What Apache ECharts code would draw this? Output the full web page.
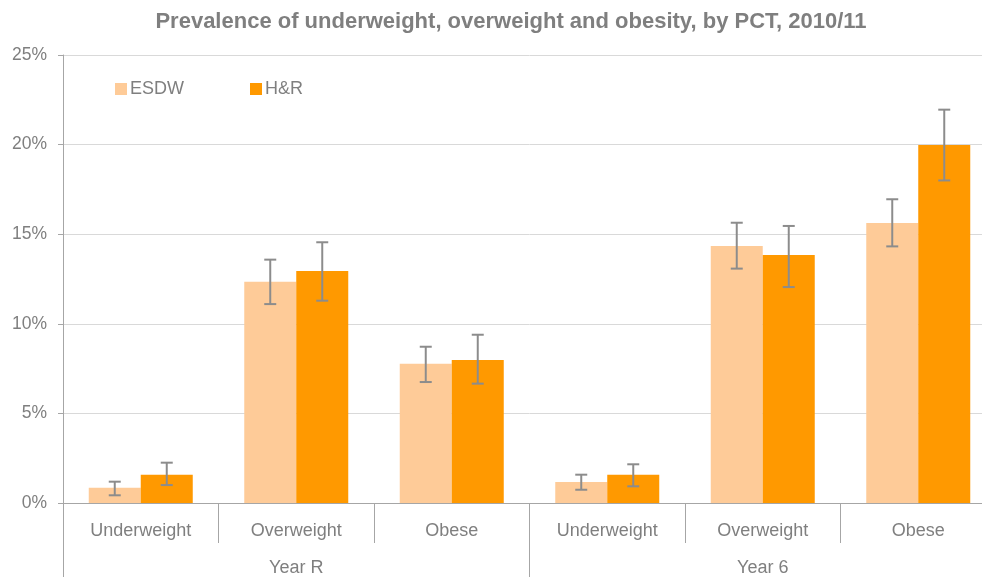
<!DOCTYPE html>
<html>
<head>
<meta charset="utf-8">
<script src="https://cdn.jsdelivr.net/npm/echarts@6/dist/echarts.min.js"></script>
<style>
html, body { margin: 0; padding: 0; background: #fff; overflow: hidden; }
#chart { width: 996px; height: 577px; }
</style>
</head>
<body>
<div id="chart"></div>
<script>
// categories and values (percent)
var categories = ['Underweight', 'Overweight', 'Obese', 'Underweight', 'Overweight', 'Obese'];
var years = ['Year R', 'Year 6'];
var esdw = [0.85, 12.35, 7.77, 1.17, 14.34, 15.63];
var esdwLow = [0.43, 11.1, 6.75, 0.74, 13.08, 14.32];
var esdwHigh = [1.19, 13.58, 8.72, 1.58, 15.64, 16.95];
var hr = [1.58, 12.95, 7.98, 1.58, 13.84, 19.98];
var hrLow = [1.0, 11.29, 6.66, 0.93, 12.05, 18.0];
var hrHigh = [2.25, 14.55, 9.39, 2.16, 15.46, 21.95];

var barW = 52;
var grey = '#7f7f7f';
var lineGrey = '#a6a6a6';

function errData(low, high) {
	var out = [];
	for (var i = 0; i < low.length; i++) {
		out.push([i, low[i], high[i]]);
	}
	return out;
}

function errorBar(shift) {
	return function(params, api) {
		var i = api.value(0);
		var lo = api.coord([i, api.value(1)]);
		var hi = api.coord([i, api.value(2)]);
		var x = lo[0] + shift;
		var cap = 6;
		var st = { stroke: '#8c8c8c', lineWidth: 2 };
		return {
			type: 'group',
			children: [
				{ type: 'line', shape: { x1: x, y1: hi[1], x2: x, y2: lo[1] }, style: st },
				{ type: 'line', shape: { x1: x - cap, y1: hi[1], x2: x + cap, y2: hi[1] }, style: st },
				{ type: 'line', shape: { x1: x - cap, y1: lo[1], x2: x + cap, y2: lo[1] }, style: st }
			]
		};
	};
}

var myChart = echarts.init(document.getElementById('chart'));
var option = {
	animation: false,
	title: {
		text: 'Prevalence of underweight, overweight and obesity, by PCT, 2010/11',
		left: 506,
		textAlign: 'center',
		top: 6,
		textStyle: { color: grey, fontSize: 22, fontWeight: 'bold', fontFamily: 'Liberation Sans' }
	},
	legend: {
		left: 110,
		top: 75,
		itemWidth: 12,
		itemHeight: 12,
		itemGap: 66,
		icon: 'rect',
		textStyle: { color: grey, fontSize: 18, fontFamily: 'Liberation Sans', padding: [0, 0, 0, -2] },
		data: ['ESDW', 'H&R']
	},
	grid: { left: 63, right: 0, top: 55, bottom: 74 },
	xAxis: [{
		type: 'category',
		data: categories,
		axisLine: { lineStyle: { color: lineGrey, width: 1 } },
		axisTick: { show: true, length: 40, interval: 0, lineStyle: { color: lineGrey } },
		axisLabel: { color: grey, fontSize: 18, margin: 19, interval: 0, fontFamily: 'Liberation Sans' }
	}, {
		type: 'category',
		position: 'bottom',
		data: years,
		axisLine: { show: false },
		axisTick: { show: true, length: 74, interval: 0, lineStyle: { color: lineGrey } },
		axisLabel: { color: grey, fontSize: 18, margin: 56, fontFamily: 'Liberation Sans' }
	}],
	yAxis: {
		type: 'value',
		min: 0,
		max: 25,
		interval: 5,
		axisLine: { show: true, lineStyle: { color: lineGrey } },
		axisTick: { show: true, length: 5, lineStyle: { color: lineGrey } },
		axisLabel: { color: grey, fontSize: 17.5, margin: 16, fontFamily: 'Liberation Sans', formatter: '{value}%' },
		splitLine: { lineStyle: { color: '#d9d9d9' } }
	},
	series: [{
		name: 'ESDW',
		type: 'bar',
		data: esdw,
		barWidth: barW,
		barGap: '0%',
		itemStyle: { color: '#fecb98' }
	}, {
		name: 'H&R',
		type: 'bar',
		data: hr,
		barWidth: barW,
		barGap: '0%',
		itemStyle: { color: '#ff9900' }
	}, {
		type: 'custom',
		data: errData(esdwLow, esdwHigh),
		renderItem: errorBar(-barW / 2),
		encode: { x: 0, y: [1, 2] },
		z: 10
	}, {
		type: 'custom',
		data: errData(hrLow, hrHigh),
		renderItem: errorBar(barW / 2),
		encode: { x: 0, y: [1, 2] },
		z: 10
	}]
};
myChart.setOption(option);
</script>
</body>
</html>
